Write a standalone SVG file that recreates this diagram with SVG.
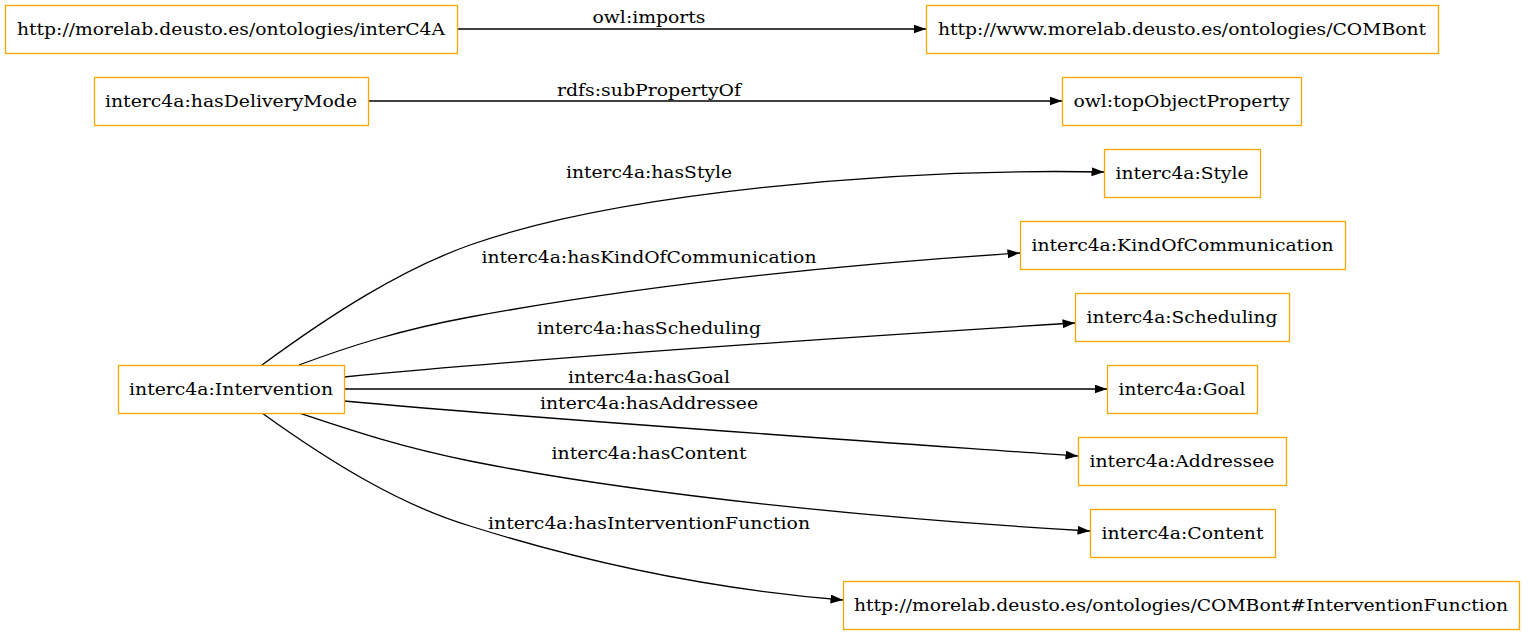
<svg xmlns="http://www.w3.org/2000/svg" width="1528" height="635" viewBox="0 0 1528 635">
<style>
.n rect{fill:#fff;stroke:#ffa500;stroke-width:1.3}
text{font-family:"DejaVu Serif","Liberation Serif",serif;font-size:16px;fill:#000;text-anchor:middle}
.e path{fill:none;stroke:#000;stroke-width:1.3;marker-end:url(#ah)}
</style>
<defs>
<marker id="ah" markerUnits="userSpaceOnUse" markerWidth="13" markerHeight="10" refX="12.5" refY="4.5" orient="auto">
<path d="M0,0 L12.5,4.5 L0,9 z" fill="#000"/>
</marker>
</defs>
<rect width="1528" height="635" fill="#fff"/>
<g id="connectors" class="e">
<path d="M457,29 L926,29"/>
<path d="M368,101 L1062,101"/>
<path d="M262,365 C330,315 400,270 470,245 C620,192 900,168 1104,172"/>
<path d="M299,365 C350,346 400,330 470,317 C650,284 850,264 1020,253"/>
<path d="M344,377 C550,357 850,337 1075,323"/>
<path d="M344,389 L1107,389"/>
<path d="M344,401 C550,420 850,440 1078,456"/>
<path d="M299,413 C350,430 400,447 470,461 C650,497 900,520 1090,531"/>
<path d="M262,413 C330,462 400,505 470,526 C600,567 720,590 843,600"/>
</g>
<g id="edge-labels">
<text x="649" y="23" textLength="113" lengthAdjust="spacingAndGlyphs">owl:imports</text>
<text x="649" y="96" textLength="184" lengthAdjust="spacingAndGlyphs">rdfs:subPropertyOf</text>
<text x="649" y="178" textLength="166" lengthAdjust="spacingAndGlyphs">interc4a:hasStyle</text>
<text x="649" y="263" textLength="335" lengthAdjust="spacingAndGlyphs">interc4a:hasKindOfCommunication</text>
<text x="649" y="334" textLength="224" lengthAdjust="spacingAndGlyphs">interc4a:hasScheduling</text>
<text x="649" y="383" textLength="162" lengthAdjust="spacingAndGlyphs">interc4a:hasGoal</text>
<text x="649" y="409" textLength="218" lengthAdjust="spacingAndGlyphs">interc4a:hasAddressee</text>
<text x="649" y="459" textLength="195" lengthAdjust="spacingAndGlyphs">interc4a:hasContent</text>
<text x="649" y="529" textLength="322" lengthAdjust="spacingAndGlyphs">interc4a:hasInterventionFunction</text>
</g>
<g id="n-interC4A" class="n"><rect x="5.5" y="5.5" width="452" height="48"/><text x="231" y="35" textLength="428" lengthAdjust="spacingAndGlyphs">http://morelab.deusto.es/ontologies/interC4A</text></g>
<g id="n-COMBont" class="n"><rect x="926.5" y="5.5" width="512" height="48"/><text x="1182" y="35" textLength="488" lengthAdjust="spacingAndGlyphs">http://www.morelab.deusto.es/ontologies/COMBont</text></g>
<g id="n-hasDeliveryMode" class="n"><rect x="94.5" y="77.5" width="274" height="48"/><text x="231" y="107" textLength="252" lengthAdjust="spacingAndGlyphs">interc4a:hasDeliveryMode</text></g>
<g id="n-topObjectProperty" class="n"><rect x="1062.5" y="77.5" width="239" height="48"/><text x="1181.5" y="107" textLength="216" lengthAdjust="spacingAndGlyphs">owl:topObjectProperty</text></g>
<g id="n-Style" class="n"><rect x="1104.5" y="149.5" width="156" height="48"/><text x="1182" y="179" textLength="133" lengthAdjust="spacingAndGlyphs">interc4a:Style</text></g>
<g id="n-KindOfCommunication" class="n"><rect x="1020.5" y="221.5" width="325" height="48"/><text x="1182.5" y="251" textLength="302" lengthAdjust="spacingAndGlyphs">interc4a:KindOfCommunication</text></g>
<g id="n-Scheduling" class="n"><rect x="1075.5" y="293.5" width="214" height="48"/><text x="1182" y="323" textLength="191" lengthAdjust="spacingAndGlyphs">interc4a:Scheduling</text></g>
<g id="n-Intervention" class="n"><rect x="118.5" y="365.5" width="226" height="48"/><text x="231" y="395" textLength="204" lengthAdjust="spacingAndGlyphs">interc4a:Intervention</text></g>
<g id="n-Goal" class="n"><rect x="1107.5" y="365.5" width="150" height="48"/><text x="1182" y="395" textLength="127" lengthAdjust="spacingAndGlyphs">interc4a:Goal</text></g>
<g id="n-Addressee" class="n"><rect x="1078.5" y="437.5" width="208" height="48"/><text x="1182" y="467" textLength="185" lengthAdjust="spacingAndGlyphs">interc4a:Addressee</text></g>
<g id="n-Content" class="n"><rect x="1090.5" y="509.5" width="185" height="48"/><text x="1182.5" y="539" textLength="162" lengthAdjust="spacingAndGlyphs">interc4a:Content</text></g>
<g id="n-InterventionFunction" class="n"><rect x="843.5" y="581.5" width="676" height="48"/><text x="1181" y="611" textLength="654" lengthAdjust="spacingAndGlyphs">http://morelab.deusto.es/ontologies/COMBont#InterventionFunction</text></g>
</svg>
